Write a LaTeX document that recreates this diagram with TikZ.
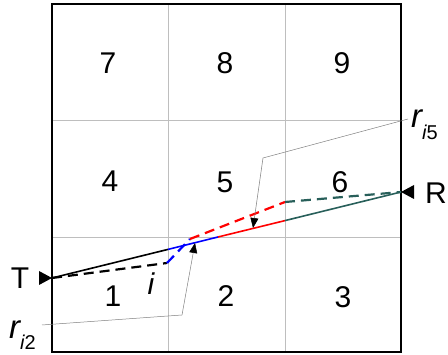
\documentclass[tikz,border=0pt]{standalone}
\usepackage{fontspec}
\setmainfont{Liberation Sans}
\usetikzlibrary{arrows.meta}
\definecolor{darkteal}{RGB}{40, 95, 90}
\definecolor{gridgray}{RGB}{190, 190, 190}

\begin{document}
\begin{tikzpicture}[
                x=1pt, y=-1pt,
                cell/.style={font=\fontsize{30}{36}\selectfont, inner sep=0pt},
                rlabel/.style={anchor=base west, inner sep=0pt, font=\fontsize{33}{38}\selectfont\itshape},
                seg/.style={line width=1.6pt},
                dseg/.style={line width=2.2pt, dash pattern=on 10pt off 6pt},
                leader/.style={draw=gray, line width=0.5pt},
                tip/.style={-{Triangle[length=10pt,width=8pt,black]}}
            ]
                \useasboundingbox (0,0) rectangle (448,355);
                % grid of cells
                \draw[gridgray, line width=0.8pt] (168,4) -- (168,352) (285,4) -- (285,352)
                    (52,120) -- (401,120) (52,237) -- (401,237);
                \draw[black, line width=1.6pt] (52,4) rectangle (401,352);
                \node[cell] (n7) at (108,63) {7};
                \node[cell] (n8) at (225,63) {8};
                \node[cell] (n9) at (342,63) {9};
                \node[cell] (n4) at (110,181) {4};
                \node[cell] (n5) at (225,182) {5};
                \node[cell] (n6) at (340,182) {6};
                \node[cell] (n1) at (113,296) {1};
                \node[cell] (n2) at (226,296) {2};
                \node[cell] (n3) at (343,297) {3};
                % transmitter and receiver
                \coordinate (T) at (52,278);
                \coordinate (R) at (401,192);
                \fill (T) -- ++(-13,-7) -- ++(0,14) -- cycle;
                \fill (R) -- ++(13,-7) -- ++(0,14) -- cycle;
                \node[cell] (tlab) at (20,278) {T};
                \node[cell] (rlab) at (436,193) {R};
                % direct ray
                \coordinate (a) at (168,249.4);
                \coordinate (b) at (218,237);
                \coordinate (c) at (285,220.6);
                \draw[seg, black] (T) -- (a);
                \draw[seg, blue] (a) -- (b);
                \draw[seg, red] (b) -- (c);
                \draw[seg, darkteal] (c) -- (R);
                % dashed ray
                \coordinate (d) at (167,263);
                \coordinate (e) at (190,239);
                \coordinate (f) at (285,202);
                \draw[dseg, black] (T) -- (d);
                \draw[dseg, blue] (d) -- (e);
                \draw[dseg, red] (e) -- (f);
                \draw[dseg, darkteal] (f) -- (R);
                \node[cell, font=\fontsize{30}{36}\selectfont\itshape] (ilab) at (151,284) {i};
                % leaders
                \coordinate (p2) at (195,243);
                \coordinate (p5) at (253,228);
                \coordinate (s2) at (42,325);
                \coordinate (k2) at (182,315);
                \coordinate (s5) at (408,119);
                \coordinate (k5) at (263,158);
                \node[rlabel] (r2) at (9,339)
                    {r\raisebox{-11pt}{\fontsize{20}{24}\selectfont i\upshape 2}};
                \node[rlabel] (r5) at (411,128)
                    {r\raisebox{-12pt}{\fontsize{20}{24}\selectfont i\upshape 5}};
                \draw[leader, tip] (s2) -- (k2) -- (p2);
                \draw[leader, tip] (s5) -- (k5) -- (p5);
            \end{tikzpicture}
\end{document}
